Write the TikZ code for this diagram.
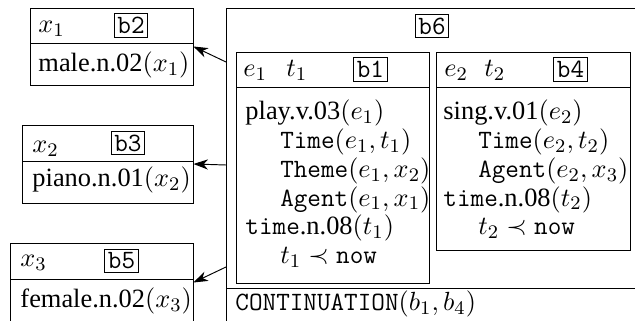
\documentclass[tikz,border=0pt]{standalone}
\usepackage{fontspec}
\setmainfont{Liberation Serif}
\usetikzlibrary{arrows.meta}
\usetikzlibrary{fit}

\newcommand{\ind}{\hspace*{14.5pt}}

\begin{document}
\begin{tikzpicture}[x=0.4167pt,y=-0.4167pt,
  every node/.style={font=\fontsize{11}{12}\selectfont},
  box/.style={draw,inner sep=0pt},
  lab/.style={draw,inner sep=1.4pt,font=\fontsize{11}{12}\selectfont\ttfamily},
  txt/.style={inner sep=0pt,anchor=base west},
  cond/.style={inner sep=0pt,anchor=north west,align=left},
  ptr/.style={-{Stealth[length=6pt,width=4.2pt,inset=1.8pt]}}]
\useasboundingbox (0,0) rectangle (635,321);
\clip (0,0) rectangle (635,321);

% referent boxes on the left
\node[box,fit={(30,8) (193,85)}] (b2) {};
\draw (30,43) -- (193,43);
\node[txt] (x1) at (38,33) {$x_1$};
\node[lab] (l2) at (131,25.5) {b2};
\node[txt] (c2) at (38,72) {male.n.02$(x_1)$};

\node[box,fit={(22,125) (193,203)}] (b3) {};
\draw (22,161) -- (193,161);
\node[txt] (x2) at (32,153) {$x_2$};
\node[lab] (l3) at (128,143) {b3};
\node[txt] (c3) at (32,187) {piano.n.01$(x_2)$};

\node[box,fit={(10,243) (193,322)}] (b5) {};
\draw (10,279) -- (193,279);
\node[txt] (x3) at (20,267) {$x_3$};
\node[lab] (l5) at (121.5,261) {b5};
\node[txt] (c5) at (20,308) {female.n.02$(x_3)$};

% the segmented box
\node[box,fit={(226,8) (637,323)}] (b6) {};
\node[lab] (l6) at (432,26) {b6};

\node[box,fit={(236,52) (429,283)}] (b1) {};
\draw (236,87) -- (429,87);
\node[txt] (e1) at (243,77) {$e_1$};
\node[txt] (t1) at (286,77) {$t_1$};
\node[lab] (l1) at (370.5,69.5) {b1};
\node[cond] (c1) at (245,99) {\strut play.v.03$(e_1)$\\
  \ind\texttt{Time}$(e_1,t_1)$\\
  \ind\texttt{Theme}$(e_1,x_2)$\\
  \ind\texttt{Agent}$(e_1,x_1)$\\
  \texttt{time}.n.08$(t_1)$\\
  \ind$t_1\prec\texttt{now}$};

\node[box,fit={(436,52) (630,250)}] (b4) {};
\draw (436,87) -- (630,87);
\node[txt] (e2) at (444,77) {$e_2$};
\node[txt] (t2) at (484,77) {$t_2$};
\node[lab] (l4) at (570.5,69.5) {b4};
\node[cond] (c4) at (443,99) {\strut sing.v.01$(e_2)$\\
  \ind\texttt{Time}$(e_2,t_2)$\\
  \ind\texttt{Agent}$(e_2,x_3)$\\
  \texttt{time}.n.08$(t_2)$\\
  \ind$t_2\prec\texttt{now}$};

\draw (226,288) -- (637,288);
\node[txt] (rel) at (235,311) {\texttt{CONTINUATION}$(b_1,b_4)$};

% pointers to the referent boxes
\coordinate (p2) at (226,62);
\coordinate (p3) at (226,165);
\coordinate (p5) at (226,267);
\draw[ptr] (p2) -- (b2.east);
\draw[ptr] (p3) -- (b3.east);
\draw[ptr] (p5) -- (b5.east);
\end{tikzpicture}
\end{document}
